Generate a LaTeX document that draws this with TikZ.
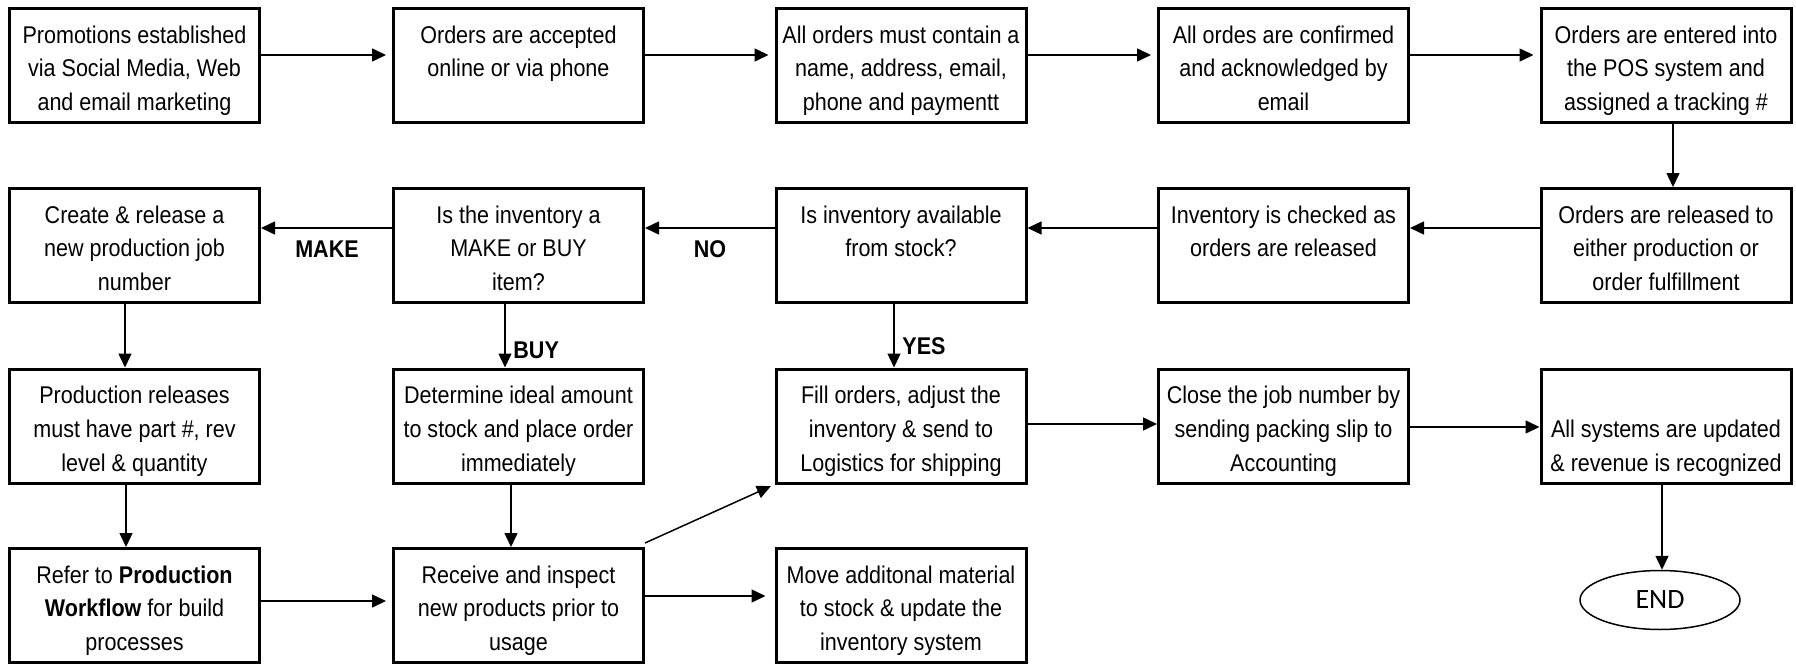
\documentclass[tikz,border=0pt]{standalone}
\usepackage{fontspec}
\setmainfont{Liberation Sans}[FakeStretch=0.89]
\newfontfamily\endfont{Carlito}
\usetikzlibrary{arrows.meta,shapes.geometric}
\newcommand{\bx}[1]{\parbox[c][57pt][t]{125pt}{\centering\rule{0pt}{17.25pt}#1}}
\tikzset{
 box/.style={draw, line width=1.5pt, minimum width=125pt, minimum height=57pt, inner sep=0pt, font=\fontsize{12.1pt}{16.9pt}\selectfont},
 arr/.style={line width=0.75pt, -{Triangle[length=7pt,width=6.5pt]}},
 lbl/.style={font=\fontsize{12.1pt}{14pt}\selectfont\bfseries, inner sep=0pt},
 endnode/.style={ellipse, draw, line width=0.75pt, minimum width=80pt, minimum height=29.5pt, inner sep=0pt, font=\endfont\fontsize{14pt}{16pt}\selectfont}
}
\begin{document}
\begin{tikzpicture}[x=0.5pt,y=-0.5pt]
\useasboundingbox (0,0) rectangle (1796,664);
% row 1
\node[box] (b11) at (134.5,65.5) {\bx{Promotions established\\via Social Media, Web\\and email marketing}};
\node[box] (b12) at (518.5,65.5) {\bx{Orders are accepted\\online or via phone}};
\node[box] (b13) at (901,65.5) {\bx{All orders must contain a\\name, address, email,\\phone and paymentt}};
\node[box] (b14) at (1283.5,65.5) {\bx{All ordes are confirmed\\and acknowledged by\\email}};
\node[box] (b15) at (1666,65.5) {\bx{Orders are entered into\\the POS system and\\assigned a tracking \#}};
% row 2
\node[box] (b21) at (134.5,245.5) {\bx{Create \& release a\\new production job\\number}};
\node[box] (b22) at (518.5,245.5) {\bx{Is the inventory a\\MAKE or BUY\\item?}};
\node[box] (b23) at (901,245.5) {\bx{Is inventory available\\from stock?}};
\node[box] (b24) at (1283.5,245.5) {\bx{Inventory is checked as\\orders are released}};
\node[box] (b25) at (1666,245.5) {\bx{Orders are released to\\either production or\\order fulfillment}};
% row 3
\node[box] (b31) at (134.5,426) {\bx{Production releases\\must have part \#, rev\\level \& quantity}};
\node[box] (b32) at (518.5,426) {\bx{Determine ideal amount\\to stock and place order\\immediately}};
\node[box] (b33) at (901,426) {\bx{Fill orders, adjust the\\inventory \& send to\\Logistics for shipping}};
\node[box] (b34) at (1283.5,426) {\bx{Close the job number by\\sending packing slip to\\Accounting}};
\node[box] (b35) at (1666,426) {\bx{\mbox{}\\All systems are updated\\\& revenue is recognized}};
% row 4
\node[box] (b41) at (134.5,605.5) {\bx{Refer to \textbf{Production}\\\textbf{Workflow} for build\\processes}};
\node[box] (b42) at (518.5,605.5) {\bx{Receive and inspect\\new products prior to\\usage}};
\node[box] (b43) at (901,605.5) {\bx{Move additonal material\\to stock \& update the\\inventory system}};
\node[endnode] (end) at (1660,600) {\raisebox{-3pt}{END}};
% labels
\node[lbl] (lmake) at (327,249) {MAKE};
\node[lbl] (lno) at (710,249) {NO};
\node[lbl, anchor=west] (lbuy) at (513,350) {BUY};
\node[lbl, anchor=west] (lyes) at (902,346) {YES};
% row 1 arrows
\draw[arr, shorten >=3pt] (b11.east |- 0,55) -- (b12.west |- 0,55);
\draw[arr, shorten >=3pt] (b12.east |- 0,55) -- (b13.west |- 0,55);
\draw[arr, shorten >=3pt] (b13.east |- 0,55) -- (b14.west |- 0,55);
\draw[arr, shorten >=3pt] (b14.east |- 0,55) -- (b15.west |- 0,55);
\draw[arr] (b15.south -| 1673,0) -- (b25.north -| 1673,0);
% row 2 arrows
\draw[arr] (b25.west |- 0,228) -- (b24.east |- 0,228);
\draw[arr] (b24.west |- 0,228) -- (b23.east |- 0,228);
\draw[arr] (b23.west |- 0,228) -- (b22.east |- 0,228);
\draw[arr] (b22.west |- 0,228) -- (b21.east |- 0,228);
% verticals
\draw[arr] (b21.south -| 125,0) -- (b31.north -| 125,0);
\draw[arr] (b31.south -| 126,0) -- (b41.north -| 126,0);
\draw[arr] (b22.south -| 505,0) -- (b32.north -| 505,0);
\draw[arr] (b32.south -| 511,0) -- (b42.north -| 511,0);
\draw[arr] (b23.south -| 894,0) -- (b33.north -| 894,0);
\draw[arr] (b35.south -| 1662,0) -- (end.north -| 1662,0);
% row 3 arrows
\draw[arr] (b33.east |- 0,424) -- (b34.west |- 0,424);
\draw[arr] (b34.east |- 0,427) -- (b35.west |- 0,427);
% row 4 arrows
\draw[arr, shorten >=3pt] (b41.east |- 0,601) -- (b42.west |- 0,601);
\draw[arr, shorten >=4.5pt] (b42.east |- 0,596) -- (b43.west |- 0,596);
\draw[arr, shorten >=2pt] ([yshift=2pt]b42.north east) -- (b33.south west);
\end{tikzpicture}
\end{document}
